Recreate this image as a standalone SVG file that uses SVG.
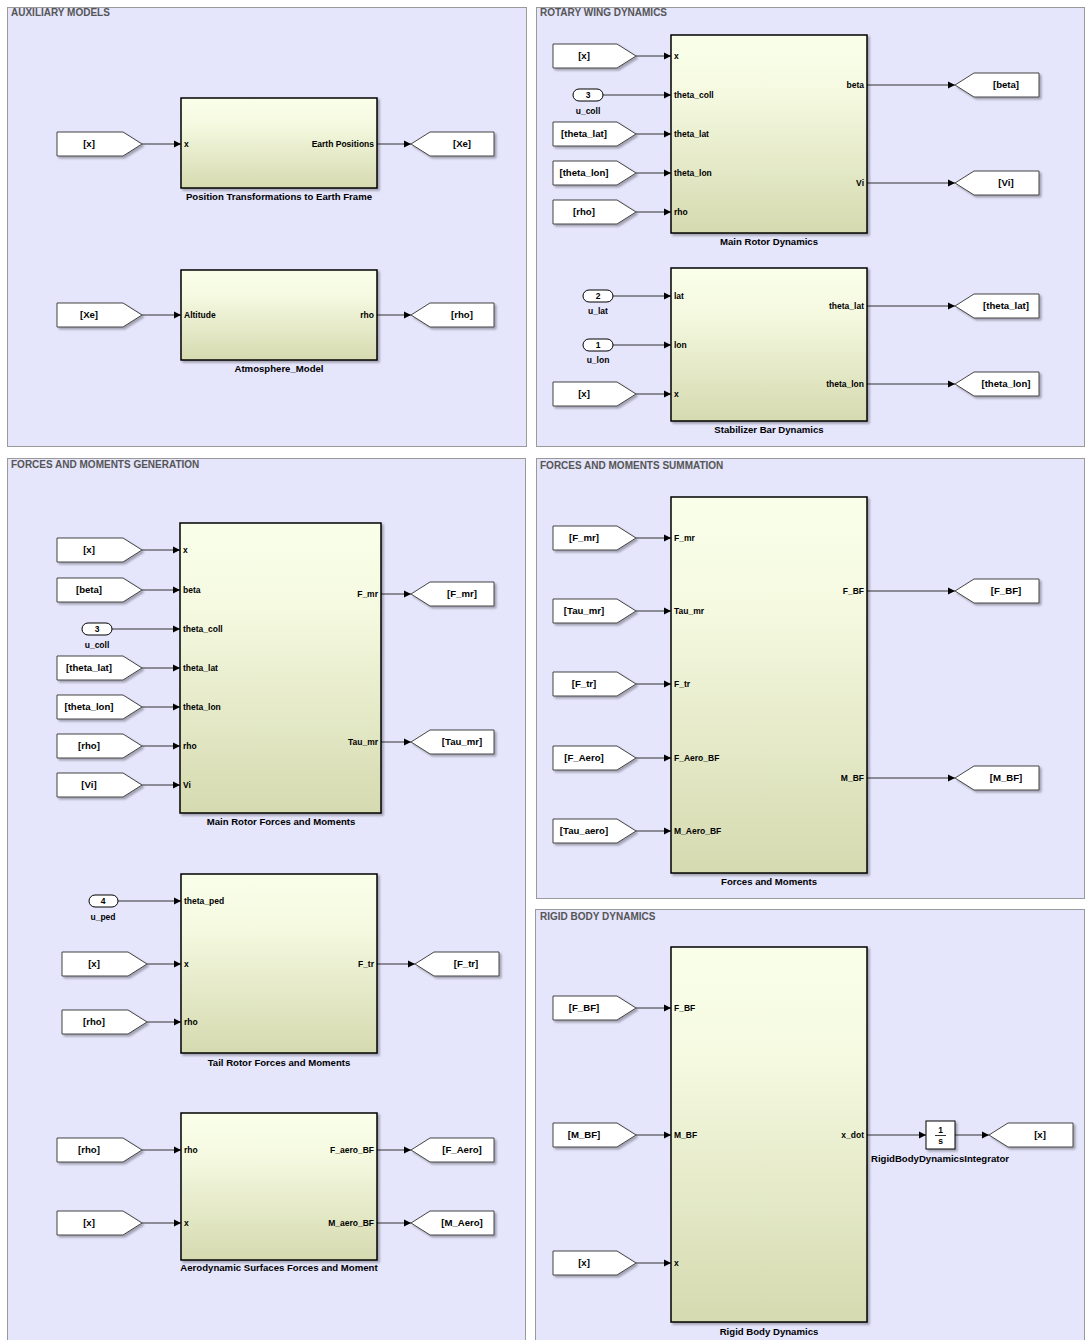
<svg xmlns="http://www.w3.org/2000/svg" width="1086" height="1340" viewBox="0 0 1086 1340">
<style>
text{font-family:"Liberation Sans",Arial,sans-serif;font-weight:bold;fill:#000}
.title{font-size:10px;fill:#555}
.port{font-size:8.5px}
.bname{font-size:9.6px;text-anchor:middle}
.tagt{font-size:9.6px;text-anchor:middle}
.panel{fill:#E5E5FC;stroke:#9a9a9a;stroke-width:1}
.blk{fill:url(#g);stroke:#000;stroke-width:1.5;filter:url(#sh)}
.tag{fill:#fff;stroke:#444;stroke-width:1;filter:url(#sh)}
.inp{fill:#fff;stroke:#000;stroke-width:1}
.ln{stroke:#333;stroke-width:1;fill:none;marker-end:url(#ar)}
.r{text-anchor:end}
.m{text-anchor:middle}
</style>
<defs>
<linearGradient id="g" x1="0" y1="0" x2="0" y2="1">
<stop offset="0" stop-color="#FAFFEA"/>
<stop offset="0.3" stop-color="#F5F9E0"/>
<stop offset="1" stop-color="#D5DAB0"/>
</linearGradient>
<filter id="sh" x="-10%" y="-10%" width="130%" height="130%">
<feDropShadow dx="2" dy="2" stdDeviation="1" flood-color="#000" flood-opacity="0.3"/>
</filter>
<marker id="ar" markerWidth="8" markerHeight="8" refX="7" refY="4" orient="auto" markerUnits="userSpaceOnUse">
<path d="M0,0.5 L7,4 L0,7.5 z" fill="#000"/>
</marker>
</defs>
<rect width="1086" height="1340" fill="#fff"/>

<g id="panels">
<rect class="panel" x="7.5" y="7.5" width="519" height="439"/>
<text class="title" x="11" y="16">AUXILIARY MODELS</text>
<rect class="panel" x="536.5" y="7.5" width="548" height="439"/>
<text class="title" x="540" y="16">ROTARY WING DYNAMICS</text>
<rect class="panel" x="7.5" y="458.5" width="518" height="890"/>
<text class="title" x="11" y="468">FORCES AND MOMENTS GENERATION</text>
<rect class="panel" x="536.5" y="458.5" width="548" height="440"/>
<text class="title" x="540" y="469">FORCES AND MOMENTS SUMMATION</text>
<rect class="panel" x="535.5" y="909.5" width="549" height="440"/>
<text class="title" x="540" y="920">RIGID BODY DYNAMICS</text>
</g>

<g id="connectors">
<line class="ln" x1="142" y1="144" x2="181" y2="144"/>
<line class="ln" x1="377" y1="144" x2="411" y2="144"/>
<line class="ln" x1="142" y1="315" x2="181" y2="315"/>
<line class="ln" x1="377" y1="315" x2="411" y2="315"/>
<line class="ln" x1="636" y1="56" x2="671" y2="56"/>
<line class="ln" x1="603" y1="95" x2="671" y2="95"/>
<line class="ln" x1="636" y1="134" x2="671" y2="134"/>
<line class="ln" x1="636" y1="173" x2="671" y2="173"/>
<line class="ln" x1="636" y1="212" x2="671" y2="212"/>
<line class="ln" x1="867" y1="85" x2="955" y2="85"/>
<line class="ln" x1="867" y1="183" x2="955" y2="183"/>
<line class="ln" x1="613" y1="296" x2="671" y2="296"/>
<line class="ln" x1="613" y1="345" x2="671" y2="345"/>
<line class="ln" x1="636" y1="394" x2="671" y2="394"/>
<line class="ln" x1="867" y1="306" x2="955" y2="306"/>
<line class="ln" x1="867" y1="384" x2="955" y2="384"/>
<line class="ln" x1="142" y1="550" x2="180" y2="550"/>
<line class="ln" x1="142" y1="590" x2="180" y2="590"/>
<line class="ln" x1="112" y1="629" x2="180" y2="629"/>
<line class="ln" x1="142" y1="668" x2="180" y2="668"/>
<line class="ln" x1="142" y1="707" x2="180" y2="707"/>
<line class="ln" x1="142" y1="746" x2="180" y2="746"/>
<line class="ln" x1="142" y1="785" x2="180" y2="785"/>
<line class="ln" x1="381" y1="594" x2="411" y2="594"/>
<line class="ln" x1="381" y1="742" x2="411" y2="742"/>
<line class="ln" x1="118" y1="901" x2="181" y2="901"/>
<line class="ln" x1="147" y1="964" x2="181" y2="964"/>
<line class="ln" x1="147" y1="1022" x2="181" y2="1022"/>
<line class="ln" x1="377" y1="964" x2="415" y2="964"/>
<line class="ln" x1="142" y1="1150" x2="181" y2="1150"/>
<line class="ln" x1="142" y1="1223" x2="181" y2="1223"/>
<line class="ln" x1="377" y1="1150" x2="411" y2="1150"/>
<line class="ln" x1="377" y1="1223" x2="411" y2="1223"/>
<line class="ln" x1="636" y1="538" x2="671" y2="538"/>
<line class="ln" x1="636" y1="611" x2="671" y2="611"/>
<line class="ln" x1="636" y1="684" x2="671" y2="684"/>
<line class="ln" x1="636" y1="758" x2="671" y2="758"/>
<line class="ln" x1="636" y1="831" x2="671" y2="831"/>
<line class="ln" x1="867" y1="591" x2="955" y2="591"/>
<line class="ln" x1="867" y1="778" x2="955" y2="778"/>
<line class="ln" x1="636" y1="1008" x2="671" y2="1008"/>
<line class="ln" x1="636" y1="1135" x2="671" y2="1135"/>
<line class="ln" x1="636" y1="1263" x2="671" y2="1263"/>
<line class="ln" x1="867" y1="1135" x2="926" y2="1135"/>
<line class="ln" x1="955" y1="1135" x2="989" y2="1135"/>
</g>

<!-- AUXILIARY MODELS -->
<g id="from_x_aux1"><path class="tag" d="M57,132 h66 l19,12 l-19,12 h-66 z"/><text class="tagt" x="89" y="147">[x]</text></g>
<g id="pos_transform">
<rect class="blk" x="181" y="98" width="196" height="90"/>
<text class="port" x="184" y="147">x</text>
<text class="port r" x="374" y="147">Earth Positions</text>
<text class="bname" x="279" y="200">Position Transformations to Earth Frame</text>
</g>
<g id="goto_Xe"><path class="tag" d="M411,144 l19,-12 h64 v24 h-64 z"/><text class="tagt" x="462" y="147">[Xe]</text></g>

<g id="from_Xe"><path class="tag" d="M57,303 h66 l19,12 l-19,12 h-66 z"/><text class="tagt" x="89" y="318">[Xe]</text></g>
<g id="atmosphere">
<rect class="blk" x="181" y="270" width="196" height="90"/>
<text class="port" x="184" y="318">Altitude</text>
<text class="port r" x="374" y="318">rho</text>
<text class="bname" x="279" y="372">Atmosphere_Model</text>
</g>
<g id="goto_rho"><path class="tag" d="M411,315 l19,-12 h64 v24 h-64 z"/><text class="tagt" x="462" y="318">[rho]</text></g>

<!-- ROTARY WING DYNAMICS -->
<g id="from_x_rw"><path class="tag" d="M553,44 h64 l19,12 l-19,12 h-64 z"/><text class="tagt" x="584" y="59">[x]</text></g>
<g id="in_u_coll_rw"><rect class="inp" x="573" y="89" width="30" height="12" rx="6"/><text class="port m" x="588" y="98">3</text><text class="port m" x="588" y="114">u_coll</text></g>
<g id="from_theta_lat_rw"><path class="tag" d="M553,122 h64 l19,12 l-19,12 h-64 z"/><text class="tagt" x="584" y="137">[theta_lat]</text></g>
<g id="from_theta_lon_rw"><path class="tag" d="M553,161 h64 l19,12 l-19,12 h-64 z"/><text class="tagt" x="584" y="176">[theta_lon]</text></g>
<g id="from_rho_rw"><path class="tag" d="M553,200 h64 l19,12 l-19,12 h-64 z"/><text class="tagt" x="584" y="215">[rho]</text></g>
<g id="main_rotor_dyn">
<rect class="blk" x="671" y="35" width="196" height="198"/>
<text class="port" x="674" y="59">x</text>
<text class="port" x="674" y="98">theta_coll</text>
<text class="port" x="674" y="137">theta_lat</text>
<text class="port" x="674" y="176">theta_lon</text>
<text class="port" x="674" y="215">rho</text>
<text class="port r" x="864" y="88">beta</text>
<text class="port r" x="864" y="186">Vi</text>
<text class="bname" x="769" y="245">Main Rotor Dynamics</text>
</g>
<g id="goto_beta"><path class="tag" d="M955,85 l19,-12 h65 v24 h-65 z"/><text class="tagt" x="1006" y="88">[beta]</text></g>
<g id="goto_Vi"><path class="tag" d="M955,183 l19,-12 h65 v24 h-65 z"/><text class="tagt" x="1006" y="186">[Vi]</text></g>

<g id="in_u_lat"><rect class="inp" x="583" y="290" width="30" height="12" rx="6"/><text class="port m" x="598" y="299">2</text><text class="port m" x="598" y="314">u_lat</text></g>
<g id="in_u_lon"><rect class="inp" x="583" y="339" width="30" height="12" rx="6"/><text class="port m" x="598" y="348">1</text><text class="port m" x="598" y="363">u_lon</text></g>
<g id="from_x_sb"><path class="tag" d="M553,382 h64 l19,12 l-19,12 h-64 z"/><text class="tagt" x="584" y="397">[x]</text></g>
<g id="stab_bar">
<rect class="blk" x="671" y="268" width="196" height="153"/>
<text class="port" x="674" y="299">lat</text>
<text class="port" x="674" y="348">lon</text>
<text class="port" x="674" y="397">x</text>
<text class="port r" x="864" y="309">theta_lat</text>
<text class="port r" x="864" y="387">theta_lon</text>
<text class="bname" x="769" y="433">Stabilizer Bar Dynamics</text>
</g>
<g id="goto_theta_lat"><path class="tag" d="M955,306 l19,-12 h65 v24 h-65 z"/><text class="tagt" x="1006" y="309">[theta_lat]</text></g>
<g id="goto_theta_lon"><path class="tag" d="M955,384 l19,-12 h65 v24 h-65 z"/><text class="tagt" x="1006" y="387">[theta_lon]</text></g>

<!-- FORCES AND MOMENTS GENERATION -->
<g id="from_x_mr"><path class="tag" d="M57,538 h66 l19,12 l-19,12 h-66 z"/><text class="tagt" x="89" y="553">[x]</text></g>
<g id="from_beta_mr"><path class="tag" d="M57,578 h66 l19,12 l-19,12 h-66 z"/><text class="tagt" x="89" y="593">[beta]</text></g>
<g id="in_u_coll_mr"><rect class="inp" x="82" y="623" width="30" height="12" rx="6"/><text class="port m" x="97" y="632">3</text><text class="port m" x="97" y="648">u_coll</text></g>
<g id="from_theta_lat_mr"><path class="tag" d="M57,656 h66 l19,12 l-19,12 h-66 z"/><text class="tagt" x="89" y="671">[theta_lat]</text></g>
<g id="from_theta_lon_mr"><path class="tag" d="M57,695 h66 l19,12 l-19,12 h-66 z"/><text class="tagt" x="89" y="710">[theta_lon]</text></g>
<g id="from_rho_mr"><path class="tag" d="M57,734 h66 l19,12 l-19,12 h-66 z"/><text class="tagt" x="89" y="749">[rho]</text></g>
<g id="from_Vi_mr"><path class="tag" d="M57,773 h66 l19,12 l-19,12 h-66 z"/><text class="tagt" x="89" y="788">[Vi]</text></g>
<g id="main_rotor_fm">
<rect class="blk" x="180" y="523" width="201" height="290"/>
<text class="port" x="183" y="553">x</text>
<text class="port" x="183" y="593">beta</text>
<text class="port" x="183" y="632">theta_coll</text>
<text class="port" x="183" y="671">theta_lat</text>
<text class="port" x="183" y="710">theta_lon</text>
<text class="port" x="183" y="749">rho</text>
<text class="port" x="183" y="788">Vi</text>
<text class="port r" x="378" y="597">F_mr</text>
<text class="port r" x="378" y="745">Tau_mr</text>
<text class="bname" x="281" y="825">Main Rotor Forces and Moments</text>
</g>
<g id="goto_F_mr"><path class="tag" d="M411,594 l19,-12 h64 v24 h-64 z"/><text class="tagt" x="462" y="597">[F_mr]</text></g>
<g id="goto_Tau_mr"><path class="tag" d="M411,742 l19,-12 h64 v24 h-64 z"/><text class="tagt" x="462" y="745">[Tau_mr]</text></g>

<g id="in_u_ped"><rect class="inp" x="89" y="895" width="29" height="12" rx="6"/><text class="port m" x="103" y="904">4</text><text class="port m" x="103" y="920">u_ped</text></g>
<g id="from_x_tr"><path class="tag" d="M62,952 h66 l19,12 l-19,12 h-66 z"/><text class="tagt" x="94" y="967">[x]</text></g>
<g id="from_rho_tr"><path class="tag" d="M62,1010 h66 l19,12 l-19,12 h-66 z"/><text class="tagt" x="94" y="1025">[rho]</text></g>
<g id="tail_rotor">
<rect class="blk" x="181" y="874" width="196" height="179"/>
<text class="port" x="184" y="904">theta_ped</text>
<text class="port" x="184" y="967">x</text>
<text class="port" x="184" y="1025">rho</text>
<text class="port r" x="374" y="967">F_tr</text>
<text class="bname" x="279" y="1066">Tail Rotor Forces and Moments</text>
</g>
<g id="goto_F_tr"><path class="tag" d="M415,964 l19,-12 h65 v24 h-65 z"/><text class="tagt" x="466" y="967">[F_tr]</text></g>

<g id="from_rho_aero"><path class="tag" d="M57,1138 h66 l19,12 l-19,12 h-66 z"/><text class="tagt" x="89" y="1153">[rho]</text></g>
<g id="from_x_aero"><path class="tag" d="M57,1211 h66 l19,12 l-19,12 h-66 z"/><text class="tagt" x="89" y="1226">[x]</text></g>
<g id="aero_surfaces">
<rect class="blk" x="181" y="1113" width="196" height="147"/>
<text class="port" x="184" y="1153">rho</text>
<text class="port" x="184" y="1226">x</text>
<text class="port r" x="374" y="1153">F_aero_BF</text>
<text class="port r" x="374" y="1226">M_aero_BF</text>
<text class="bname" x="279" y="1271">Aerodynamic Surfaces Forces and Moment</text>
</g>
<g id="goto_F_Aero"><path class="tag" d="M411,1150 l19,-12 h64 v24 h-64 z"/><text class="tagt" x="462" y="1153">[F_Aero]</text></g>
<g id="goto_M_Aero"><path class="tag" d="M411,1223 l19,-12 h64 v24 h-64 z"/><text class="tagt" x="462" y="1226">[M_Aero]</text></g>

<!-- FORCES AND MOMENTS SUMMATION -->
<g id="from_F_mr"><path class="tag" d="M553,526 h64 l19,12 l-19,12 h-64 z"/><text class="tagt" x="584" y="541">[F_mr]</text></g>
<g id="from_Tau_mr"><path class="tag" d="M553,599 h64 l19,12 l-19,12 h-64 z"/><text class="tagt" x="584" y="614">[Tau_mr]</text></g>
<g id="from_F_tr"><path class="tag" d="M553,672 h64 l19,12 l-19,12 h-64 z"/><text class="tagt" x="584" y="687">[F_tr]</text></g>
<g id="from_F_Aero"><path class="tag" d="M553,746 h64 l19,12 l-19,12 h-64 z"/><text class="tagt" x="584" y="761">[F_Aero]</text></g>
<g id="from_Tau_aero"><path class="tag" d="M553,819 h64 l19,12 l-19,12 h-64 z"/><text class="tagt" x="584" y="834">[Tau_aero]</text></g>
<g id="forces_moments">
<rect class="blk" x="671" y="497" width="196" height="376"/>
<text class="port" x="674" y="541">F_mr</text>
<text class="port" x="674" y="614">Tau_mr</text>
<text class="port" x="674" y="687">F_tr</text>
<text class="port" x="674" y="761">F_Aero_BF</text>
<text class="port" x="674" y="834">M_Aero_BF</text>
<text class="port r" x="864" y="594">F_BF</text>
<text class="port r" x="864" y="781">M_BF</text>
<text class="bname" x="769" y="885">Forces and Moments</text>
</g>
<g id="goto_F_BF"><path class="tag" d="M955,591 l19,-12 h65 v24 h-65 z"/><text class="tagt" x="1006" y="594">[F_BF]</text></g>
<g id="goto_M_BF"><path class="tag" d="M955,778 l19,-12 h65 v24 h-65 z"/><text class="tagt" x="1006" y="781">[M_BF]</text></g>

<!-- RIGID BODY DYNAMICS -->
<g id="from_F_BF"><path class="tag" d="M553,996 h64 l19,12 l-19,12 h-64 z"/><text class="tagt" x="584" y="1011">[F_BF]</text></g>
<g id="from_M_BF"><path class="tag" d="M553,1123 h64 l19,12 l-19,12 h-64 z"/><text class="tagt" x="584" y="1138">[M_BF]</text></g>
<g id="from_x_rb"><path class="tag" d="M553,1251 h64 l19,12 l-19,12 h-64 z"/><text class="tagt" x="584" y="1266">[x]</text></g>
<g id="rigid_body">
<rect class="blk" x="671" y="947" width="196" height="375"/>
<text class="port" x="674" y="1011">F_BF</text>
<text class="port" x="674" y="1138">M_BF</text>
<text class="port" x="674" y="1266">x</text>
<text class="port r" x="864" y="1138">x_dot</text>
<text class="bname" x="769" y="1335">Rigid Body Dynamics</text>
</g>
<g id="integrator">
<rect x="926" y="1121" width="29" height="28" fill="#fff" stroke="#000" stroke-width="1" filter="url(#sh)"/>
<text class="port m" x="940.5" y="1133">1</text>
<line x1="935" y1="1135.5" x2="946" y2="1135.5" stroke="#000" stroke-width="0.8"/>
<text class="port m" x="940.5" y="1144">s</text>
<text class="bname" x="940" y="1162">RigidBodyDynamicsIntegrator</text>
</g>
<g id="goto_x"><path class="tag" d="M989,1135 l19,-12 h65 v24 h-65 z"/><text class="tagt" x="1040" y="1138">[x]</text></g>
</svg>
